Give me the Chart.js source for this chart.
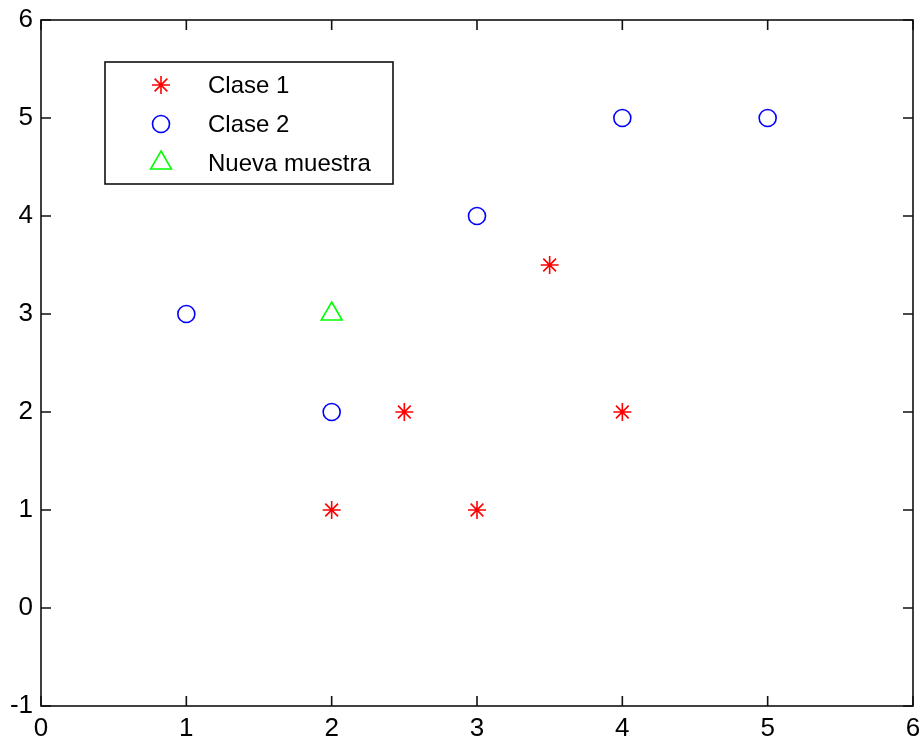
<!DOCTYPE html>
<html>
<head>
<meta charset="utf-8">
<script src="https://cdn.jsdelivr.net/npm/chart.js@4/dist/chart.umd.min.js"></script>
<style>
  html, body { margin: 0; padding: 0; background: #fff; }
  #wrap { width: 922px; height: 744px; }
</style>
</head>
<body>
<div id="wrap"><canvas id="plot" width="922" height="744"></canvas></div>
<script>
// data
const clase1X = [2, 3, 2.5, 4, 3.5];
const clase1Y = [1, 1, 2, 2, 3.5];
const clase2X = [1, 2, 3, 4, 5];
const clase2Y = [3, 2, 4, 5, 5];
const nuevaX = [2];
const nuevaY = [3];
const xTicks = [0, 1, 2, 3, 4, 5, 6];
const yTicks = [-1, 0, 1, 2, 3, 4, 5, 6];
const seriesNames = ['Clase 1', 'Clase 2', 'Nueva muestra'];

const toPoints = (xs, ys) => xs.map((x, i) => ({ x: x, y: ys[i] }));

const tickFont = { family: '"Liberation Sans", Arial, sans-serif', size: 26 };
const legendFont = '24px "Liberation Sans", Arial, sans-serif';

// box around the axes with inward ticks on all four sides
const axesBox = {
  id: 'axesBox',
  afterDatasetsDraw(chart) {
    const { ctx, chartArea: a, scales } = chart;
    const tickLen = 10;
    ctx.save();
    ctx.strokeStyle = '#111';
    ctx.lineWidth = 1.6;
    ctx.strokeRect(a.left, a.top, a.right - a.left, a.bottom - a.top);
    ctx.beginPath();
    xTicks.forEach(v => {
      const px = scales.x.getPixelForValue(v);
      ctx.moveTo(px, a.bottom); ctx.lineTo(px, a.bottom - tickLen);
      ctx.moveTo(px, a.top); ctx.lineTo(px, a.top + tickLen);
    });
    yTicks.forEach(v => {
      const py = scales.y.getPixelForValue(v);
      ctx.moveTo(a.left, py); ctx.lineTo(a.left + tickLen, py);
      ctx.moveTo(a.right, py); ctx.lineTo(a.right - tickLen, py);
    });
    ctx.stroke();
    ctx.restore();
  }
};

// matlab style legend inside the axes, top left
const boxLegend = {
  id: 'boxLegend',
  afterDraw(chart) {
    const { ctx, chartArea: a } = chart;
    const left = a.left + 64, top = a.top + 42, w = 288, h = 122;
    ctx.save();
    ctx.fillStyle = '#fff';
    ctx.fillRect(left, top, w, h);
    ctx.strokeStyle = '#111';
    ctx.lineWidth = 1.6;
    ctx.strokeRect(left, top, w, h);
    ctx.font = legendFont;
    ctx.textBaseline = 'middle';
    chart.data.datasets.forEach((ds, i) => {
      const cy = top + 23 + i * 39;
      const cx = left + 56;
      ctx.strokeStyle = ds.pointBorderColor;
      ctx.fillStyle = 'rgba(0,0,0,0)';
      ctx.lineWidth = ds.pointBorderWidth;
      Chart.helpers.drawPoint(ctx, {
        pointStyle: ds.pointStyle,
        radius: ds.pointRadius,
        borderWidth: ds.pointBorderWidth,
        rotation: 0
      }, cx, cy);
      ctx.fillStyle = '#000';
      ctx.fillText(ds.label, left + 103, cy + 1);
    });
    ctx.restore();
  }
};

new Chart(document.getElementById('plot'), {
  type: 'scatter',
  data: {
    datasets: [
      {
        label: seriesNames[0],
        data: toPoints(clase1X, clase1Y),
        pointStyle: 'star',
        pointRadius: 9,
        pointBorderColor: '#ff0000',
        pointBackgroundColor: '#ff0000',
        pointBorderWidth: 1.6
      },
      {
        label: seriesNames[1],
        data: toPoints(clase2X, clase2Y),
        pointStyle: 'circle',
        pointRadius: 8.5,
        pointBorderColor: '#0000ff',
        pointBackgroundColor: 'rgba(0,0,0,0)',
        pointBorderWidth: 1.6
      },
      {
        label: seriesNames[2],
        data: toPoints(nuevaX, nuevaY),
        pointStyle: 'triangle',
        pointRadius: 12,
        pointBorderColor: '#00ff00',
        pointBackgroundColor: 'rgba(0,0,0,0)',
        pointBorderWidth: 1.6
      }
    ]
  },
  options: {
    responsive: false,
    animation: false,
    devicePixelRatio: 1,
    events: [],
    layout: { autoPadding: false, padding: { top: 20, right: 9, left: 0, bottom: 0 } },
    plugins: {
      legend: { display: false },
      tooltip: { enabled: false }
    },
    scales: {
      x: {
        type: 'linear',
        min: xTicks[0],
        max: xTicks[xTicks.length - 1],
        afterBuildTicks: s => { s.ticks = xTicks.map(v => ({ value: v })); },
        afterFit: s => { s.height = 38; s.paddingLeft = 0; s.paddingRight = 0; },
        // invisible tick marks only used to push the labels down
        grid: { display: true, color: 'rgba(0,0,0,0)', drawOnChartArea: false, drawTicks: true, tickLength: 7 },
        border: { display: false },
        ticks: { font: tickFont, color: '#000', padding: 0, maxRotation: 0 }
      },
      y: {
        type: 'linear',
        min: yTicks[0],
        max: yTicks[yTicks.length - 1],
        afterBuildTicks: s => { s.ticks = yTicks.map(v => ({ value: v })); },
        afterFit: s => { s.width = 41; s.paddingTop = 0; s.paddingBottom = 0; },
        grid: { display: false, drawTicks: false },
        border: { display: false },
        ticks: { font: tickFont, color: '#000', padding: 8 }
      }
    }
  },
  plugins: [axesBox, boxLegend]
});
</script>
</body>
</html>
